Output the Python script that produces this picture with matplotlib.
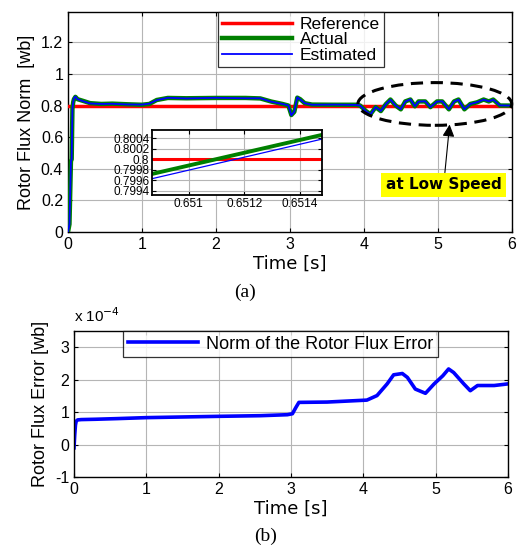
import matplotlib
matplotlib.use("Agg")
import matplotlib.pyplot as plt
from matplotlib.patches import Ellipse
from matplotlib.ticker import FuncFormatter

plt.rcParams['font.family'] = ['Liberation Sans', 'DejaVu Sans']

# ---------------- data (a) ----------------
t_ref = [0, 6]
ref = [0.8, 0.8]

t_act = [0.0, 0.02, 0.04, 0.05, 0.06, 0.07, 0.08, 0.10, 0.13, 0.2, 0.3, 0.45, 0.6, 0.8, 1.0,
         1.1, 1.2, 1.35, 1.6, 2.0, 2.4, 2.6, 2.75, 2.9, 2.98, 3.02, 3.06, 3.1, 3.14, 3.2,
         3.3, 3.6, 3.9, 3.95, 4.03, 4.09, 4.16, 4.23, 4.30, 4.36, 4.43, 4.50, 4.56, 4.63,
         4.69, 4.74, 4.83, 4.90, 4.99, 5.06, 5.15, 5.22, 5.28, 5.36, 5.44, 5.53, 5.62,
         5.69, 5.75, 5.84, 5.95, 6.0]
act = [0.0, 0.05, 0.45, 0.46, 0.78, 0.82, 0.84, 0.855, 0.84, 0.83, 0.815, 0.81, 0.812, 0.808, 0.805,
       0.81, 0.835, 0.848, 0.846, 0.848, 0.848, 0.845, 0.825, 0.81, 0.80, 0.74, 0.76, 0.85, 0.84, 0.815,
       0.806, 0.805, 0.805, 0.80, 0.765, 0.745, 0.79, 0.765, 0.81, 0.838, 0.80, 0.776, 0.826, 0.838,
       0.795, 0.826, 0.826, 0.79, 0.826, 0.826, 0.776, 0.826, 0.838, 0.776, 0.81, 0.82, 0.838,
       0.826, 0.838, 0.80, 0.80, 0.80]
est = [0.0, 0.05, 0.45, 0.46, 0.78, 0.82, 0.845, 0.857, 0.84, 0.828, 0.813, 0.81, 0.811, 0.807, 0.806,
       0.812, 0.834, 0.849, 0.845, 0.849, 0.846, 0.846, 0.824, 0.81, 0.801, 0.738, 0.762, 0.852, 0.838, 0.815,
       0.805, 0.806, 0.804, 0.80, 0.764, 0.744, 0.79, 0.766, 0.81, 0.837, 0.80, 0.777, 0.825, 0.839,
       0.796, 0.825, 0.827, 0.79, 0.825, 0.827, 0.777, 0.825, 0.837, 0.777, 0.81, 0.821, 0.837,
       0.827, 0.837, 0.801, 0.80, 0.80]

# inset zoom data
t_zoom = [0.650868, 0.651479]
ref_zoom = [0.8, 0.8]
act_zoom = [0.79972, 0.80046]
est_zoom = [0.79963, 0.80038]

# ---------------- data (b) ----------------
t_err = [0.0, 0.01, 0.02, 0.03, 0.05, 0.1, 0.3, 0.6, 1.0, 1.5, 2.0, 2.58, 2.95, 3.02, 3.07, 3.11,
         3.5, 4.05, 4.19, 4.33, 4.42, 4.54, 4.61, 4.72, 4.86, 4.98, 5.1, 5.18, 5.25, 5.39, 5.48,
         5.58, 5.81, 6.0]
err = [-0.1, 0.3, 0.6, 0.72, 0.76, 0.77, 0.78, 0.80, 0.83, 0.85, 0.87, 0.89, 0.92, 0.95, 1.15, 1.30,
       1.31, 1.37, 1.51, 1.87, 2.15, 2.19, 2.07, 1.71, 1.58, 1.87, 2.12, 2.33, 2.22, 1.87, 1.66,
       1.82, 1.82, 1.87]  # x 1e-4
err_scaled = [e * 1e-4 for e in err]

fig = plt.figure(figsize=(5.19, 5.54), dpi=100)

grid_kw = dict(color='#b5b5b5', lw=0.8, ls='-')

def style(ax, size=11.5):
    ax.tick_params(direction='in', top=True, right=True, labelsize=size, length=3, width=0.8)
    for s in ax.spines.values():
        s.set_linewidth(1.0)

# ---------- (a) ----------
ax1 = fig.add_axes([0.131, 0.581, 0.855, 0.397])
ax1.plot(t_ref, ref, color='red', lw=2.5, label='Reference', zorder=3)
ax1.plot(t_act, act, color='#008000', lw=3.2, label='Actual', zorder=4)
ax1.plot(t_act, est, color='blue', lw=1.3, label='Estimated', zorder=5)
ax1.set_xlim(0, 6)
ax1.set_ylim(0, 1.39)
ax1.set_xticks(range(7))
ax1.set_yticks([0, 0.2, 0.4, 0.6, 0.8, 1.0, 1.2])
ax1.set_yticklabels(['0', '0.2', '0.4', '0.6', '0.8', '1', '1.2'])
ax1.grid(True, **grid_kw)
style(ax1)
ax1.set_xlabel('Time [s]', fontsize=13, labelpad=2, family=['DejaVu Sans'])
ax1.set_ylabel('Rotor Flux Norm  [wb]', fontsize=13, labelpad=4)
leg = ax1.legend(loc='upper left', bbox_to_anchor=(0.338, 1.0), fontsize=12.5,
                 handlelength=4.0, frameon=True, fancybox=False, borderpad=0.25,
                 labelspacing=0.02, handletextpad=0.45, borderaxespad=0)
leg.get_frame().set_edgecolor('black')
leg.get_frame().set_linewidth(0.9)

ell = Ellipse((4.96, 0.81), 2.08, 0.27, fill=False, ls=(0, (4, 2.5)), lw=2.2,
              edgecolor='black', zorder=6, clip_on=False)
ax1.add_patch(ell)
ax1.annotate('at Low Speed', xy=(5.16, 0.68), xytext=(5.08, 0.30),
             ha='center', va='center', fontsize=11, fontweight='bold',
             family=['DejaVu Sans'],
             bbox=dict(boxstyle='square,pad=0.3', fc='#ffff00', ec='none'),
             arrowprops=dict(arrowstyle='-|>', color='black', lw=0.8,
                             mutation_scale=18, shrinkA=0, shrinkB=0), zorder=7)

# inset
axi = fig.add_axes([0.293, 0.648, 0.327, 0.117])
axi.plot(t_zoom, ref_zoom, color='red', lw=2.2)
axi.plot(t_zoom, act_zoom, color='#008000', lw=2.8)
axi.plot(t_zoom, est_zoom, color='blue', lw=0.9)
axi.set_xlim(0.650868, 0.651479)
axi.set_ylim(0.79932, 0.80055)
axi.set_xticks([0.651, 0.6512, 0.6514])
axi.set_xticklabels(['0.651', '0.6512', '0.6514'])
axi.set_yticks([0.7994, 0.7996, 0.7998, 0.8, 0.8002, 0.8004])
axi.set_yticklabels(['0.7994', '0.7996', '0.7998', '0.8', '0.8002', '0.8004'])
axi.grid(True, **grid_kw)
style(axi, size=8.5)
axi.tick_params(pad=2)
for s in axi.spines.values():
    s.set_linewidth(1.3)

fig.text(0.472, 0.472, '(a)', fontsize=14, family=['Liberation Serif'], ha='center', va='center')

# ---------- (b) ----------
ax2 = fig.add_axes([0.1426, 0.139, 0.836, 0.2635])
ax2.plot(t_err, err_scaled, color='blue', lw=2.6, label='Norm of the Rotor Flux Error')
ax2.set_xlim(0, 6)
ax2.set_ylim(-1e-4, 3.5e-4)
ax2.set_xticks(range(7))
ax2.set_yticks([-1e-4, 0, 1e-4, 2e-4, 3e-4])
ax2.yaxis.set_major_formatter(FuncFormatter(lambda v, p: f"{v * 1e4:g}"))
ax2.grid(True, **grid_kw)
style(ax2)
ax2.set_xlabel('Time [s]', fontsize=13, labelpad=2, family=['DejaVu Sans'])
ax2.set_ylabel('Rotor Flux Error [wb]', fontsize=13, labelpad=4)
ax2.text(0.0, 1.04, r'x 10$^{-4}$', transform=ax2.transAxes, fontsize=11, ha='left', va='bottom')
leg2 = ax2.legend(loc='upper left', bbox_to_anchor=(0.113, 1.0), fontsize=13,
                  handlelength=3.9, frameon=True, fancybox=False, borderpad=0.25,
                  handletextpad=0.45, borderaxespad=0)
leg2.get_frame().set_edgecolor('black')
leg2.get_frame().set_linewidth(0.9)

fig.text(0.512, 0.0325, '(b)', fontsize=14, family=['Liberation Serif'], ha='center', va='center')

fig.savefig('out.png', dpi=100)
